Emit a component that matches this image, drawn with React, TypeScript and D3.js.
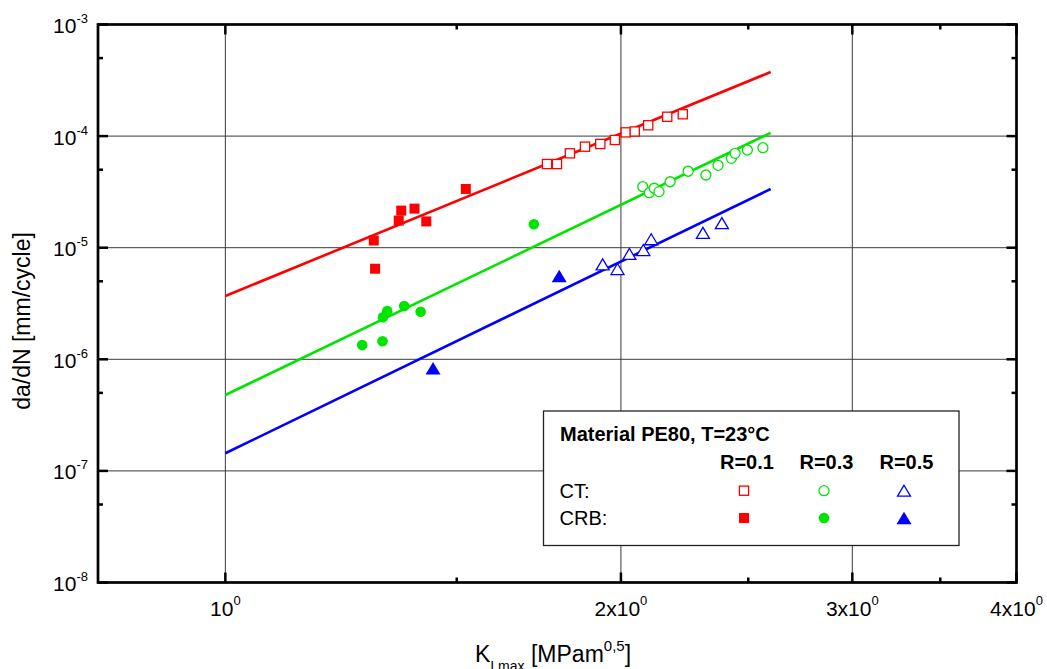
import React from "react";
import * as d3 from "d3";

// Fatigue crack growth rate vs. maximum stress intensity, PE80 at 23 °C

// CT specimens (open markers)
const ctR01K = [1.757, 1.788, 1.829, 1.878, 1.929, 1.979, 2.017, 2.049, 2.098, 2.169, 2.229];
const ctR01Rate = [5.62e-5, 5.62e-5, 7.01e-5, 8.04e-5, 8.5e-5, 9.23e-5, 1.08e-4, 1.1e-4, 1.25e-4, 1.49e-4, 1.57e-4];

const ctR03K = [2.078, 2.102, 2.12, 2.138, 2.18, 2.25, 2.321, 2.371, 2.427, 2.443, 2.496, 2.565];
const ctR03Rate = [3.52e-5, 3.11e-5, 3.41e-5, 3.18e-5, 3.9e-5, 4.84e-5, 4.48e-5, 5.47e-5, 6.32e-5, 7.01e-5, 7.5e-5, 7.87e-5];

const ctR05K = [1.937, 1.988, 2.03, 2.08, 2.109, 2.309, 2.387];
const ctR05Rate = [7.1e-6, 6.44e-6, 8.79e-6, 9.53e-6, 1.19e-5, 1.36e-5, 1.66e-5];

// CRB specimens (filled markers)
const crbR01K = [1.297, 1.3, 1.355, 1.361, 1.393, 1.422, 1.524];
const crbR01Rate = [1.16e-5, 6.48e-6, 1.75e-5, 2.15e-5, 2.24e-5, 1.72e-5, 3.36e-5];

const crbR03K = [1.271, 1.317, 1.318, 1.328, 1.368, 1.408, 1.717];
const crbR03Rate = [1.34e-6, 1.45e-6, 2.38e-6, 2.71e-6, 3.0e-6, 2.67e-6, 1.62e-5];

const crbR05K = [1.439, 1.795];
const crbR05Rate = [8.3e-7, 5.57e-6];

// Power-law fit lines, evaluated at the ends of the fitted range
const fitK = [1.0, 2.6];
const fitR01 = [3.69e-6, 3.75e-4];
const fitR03 = [4.79e-7, 1.07e-4];
const fitR05 = [1.44e-7, 3.36e-5];

// Axes
const xDomain = [0.8, 4];
const yDomain = [1e-8, 1e-3];
const xMajorTicks = [1, 2, 3, 4];
const xTickMantissa = ["", "2x", "3x", "4x"];
const xMinorTicks = [1.5, 2.5, 3.5];
const xGrid = [1, 2, 3];
const yExponents = [-8, -7, -6, -5, -4, -3];
const yMinorTicks = [5e-8, 5e-7, 5e-6, 5e-5, 5e-4];
const yGrid = [1e-7, 1e-6, 1e-5, 1e-4];

const RED = "#ff0000";
const GREEN = "#00e400";
const BLUE = "#0000ff";
const FONT = "'Liberation Sans', Arial, Helvetica, sans-serif";

const W = 1047;
const H = 669;
const L = 98;
const R = 1016.5;
const T = 24.5;
const B = 582.5;

type Shape = "square" | "circle" | "triangle";

function Marker({ shape, filled, color, cx, cy }: { shape: Shape; filled: boolean; color: string; cx: number; cy: number }) {
  const fill = filled ? color : "#fff";
  const sw = filled ? 0 : 1.3;
  if (shape === "square") {
    const s = filled ? 10 : 9.2;
    return <rect x={cx - s / 2} y={cy - s / 2} width={s} height={s} fill={fill} stroke={color} strokeWidth={sw} />;
  }
  if (shape === "circle") {
    const r = filled ? 5.3 : 5;
    return <circle cx={cx} cy={cy} r={r} fill={fill} stroke={color} strokeWidth={sw} />;
  }
  const w = filled ? 15 : 13;
  const h = filled ? 12.5 : 11;
  const pts = `${cx},${cy - h / 2} ${cx - w / 2},${cy + h / 2} ${cx + w / 2},${cy + h / 2}`;
  return <polygon points={pts} fill={fill} stroke={color} strokeWidth={sw} strokeLinejoin="miter" />;
}

export default function App() {
  const x = d3.scaleLog().domain(xDomain).range([L, R]);
  const y = d3.scaleLog().domain(yDomain).range([B, T]);

  const line = d3
    .line<[number, number]>()
    .x((d) => x(d[0]))
    .y((d) => y(d[1]));

  const fits = [
    { rate: fitR01, color: RED },
    { rate: fitR03, color: GREEN },
    { rate: fitR05, color: BLUE },
  ];

  const series: { k: number[]; rate: number[]; shape: Shape; filled: boolean; color: string }[] = [
    { k: ctR01K, rate: ctR01Rate, shape: "square", filled: false, color: RED },
    { k: crbR01K, rate: crbR01Rate, shape: "square", filled: true, color: RED },
    { k: ctR03K, rate: ctR03Rate, shape: "circle", filled: false, color: GREEN },
    { k: crbR03K, rate: crbR03Rate, shape: "circle", filled: true, color: GREEN },
    { k: ctR05K, rate: ctR05Rate, shape: "triangle", filled: false, color: BLUE },
    { k: crbR05K, rate: crbR05Rate, shape: "triangle", filled: true, color: BLUE },
  ];

  const major = 10;
  const minor = 5;
  const gridColor = "#3a3a3a";

  // legend layout
  const lgX = 543.5;
  const lgY = 411;
  const lgW = 415.5;
  const lgH = 134.5;
  const colX = [744, 824, 904];
  const rowY = [490.7, 518];
  const legendCols: { shape: Shape; color: string; label: string; lx: number }[] = [
    { shape: "square", color: RED, label: "R=0.1", lx: 720 },
    { shape: "circle", color: GREEN, label: "R=0.3", lx: 799.5 },
    { shape: "triangle", color: BLUE, label: "R=0.5", lx: 879.5 },
  ];

  return (
    <svg
      width={W}
      height={H}
      viewBox={`0 0 ${W} ${H}`}
      style={{ position: "absolute", left: 0, top: 0, background: "#fff" }}
      fontFamily={FONT}
    >
      <rect x={0} y={0} width={W} height={H} fill="#fff" />

      {/* grid */}
      <g stroke={gridColor} strokeWidth={1}>
        {xGrid.map((v) => (
          <line key={`gx${v}`} x1={x(v)} x2={x(v)} y1={T} y2={B} />
        ))}
        {yGrid.map((v) => (
          <line key={`gy${v}`} x1={L} x2={R} y1={y(v)} y2={y(v)} />
        ))}
      </g>

      {/* fit lines */}
      {fits.map((f, i) => (
        <path
          key={`fit${i}`}
          d={line([
            [fitK[0], f.rate[0]],
            [fitK[1], f.rate[1]],
          ]) as string}
          fill="none"
          stroke={f.color}
          strokeWidth={2.6}
        />
      ))}

      {/* data points */}
      {series.map((s, i) => (
        <g key={`s${i}`}>
          {s.k.map((k, j) => (
            <Marker key={j} shape={s.shape} filled={s.filled} color={s.color} cx={x(k)} cy={y(s.rate[j])} />
          ))}
        </g>
      ))}

      {/* legend */}
      <rect x={lgX} y={lgY} width={lgW} height={lgH} fill="#fff" stroke="#222" strokeWidth={1.3} />
      <text x={560} y={440.7} fontSize={20} fontWeight="bold" fill="#000">
        Material PE80, T=23°C
      </text>
      {legendCols.map((c, i) => (
        <g key={`lc${i}`}>
          <text x={c.lx} y={469.3} fontSize={20} fontWeight="bold" fill="#000">
            {c.label}
          </text>
          <Marker shape={c.shape} filled={false} color={c.color} cx={colX[i]} cy={rowY[0]} />
          <Marker shape={c.shape} filled={true} color={c.color} cx={colX[i]} cy={rowY[1]} />
        </g>
      ))}
      <text x={559.5} y={497.5} fontSize={20} fill="#000">
        CT:
      </text>
      <text x={559.5} y={525.2} fontSize={20} fill="#000">
        CRB:
      </text>

      {/* frame */}
      <rect x={L} y={T} width={R - L} height={B - T} fill="none" stroke="#000" strokeWidth={2.7} />

      {/* ticks, mirrored on all four sides */}
      <g stroke="#000" strokeWidth={2.5}>
        {xMajorTicks.map((v) => (
          <g key={`xt${v}`}>
            <line x1={x(v)} x2={x(v)} y1={B} y2={B - major} />
            <line x1={x(v)} x2={x(v)} y1={T} y2={T + major} />
          </g>
        ))}
        {xMinorTicks.map((v) => (
          <g key={`xm${v}`}>
            <line x1={x(v)} x2={x(v)} y1={B} y2={B - minor} />
            <line x1={x(v)} x2={x(v)} y1={T} y2={T + minor} />
          </g>
        ))}
        {yExponents.map((e) => (
          <g key={`yt${e}`}>
            <line x1={L} x2={L + major} y1={y(Math.pow(10, e))} y2={y(Math.pow(10, e))} />
            <line x1={R} x2={R - major} y1={y(Math.pow(10, e))} y2={y(Math.pow(10, e))} />
          </g>
        ))}
        {yMinorTicks.map((v) => (
          <g key={`ym${v}`}>
            <line x1={L} x2={L + minor} y1={y(v)} y2={y(v)} />
            <line x1={R} x2={R - minor} y1={y(v)} y2={y(v)} />
          </g>
        ))}
      </g>

      {/* y tick labels */}
      {yExponents.map((e) => (
        <text key={`yl${e}`} x={88} y={y(Math.pow(10, e)) + 8.5} fontSize={21} textAnchor="end" fill="#000">
          10
          <tspan fontSize={13} dy={-10}>
            {e}
          </tspan>
        </text>
      ))}

      {/* x tick labels */}
      {xMajorTicks.map((v, i) => (
        <text key={`xl${v}`} x={x(v)} y={616} fontSize={21} textAnchor="middle" fill="#000">
          {xTickMantissa[i]}10
          <tspan fontSize={13} dy={-11}>
            0
          </tspan>
        </text>
      ))}

      {/* axis titles */}
      <text x={475} y={662} fontSize={23} fill="#000">
        K
        <tspan fontSize={14} dy={9}>
          I max
        </tspan>
        <tspan dy={-9}> [MPam</tspan>
        <tspan fontSize={15} dy={-11}>
          0,5
        </tspan>
        <tspan dy={11}>]</tspan>
      </text>
      <text transform="translate(29.5,321) rotate(-90)" fontSize={23} textAnchor="middle" fill="#000">
        da/dN [mm/cycle]
      </text>
    </svg>
  );
}
